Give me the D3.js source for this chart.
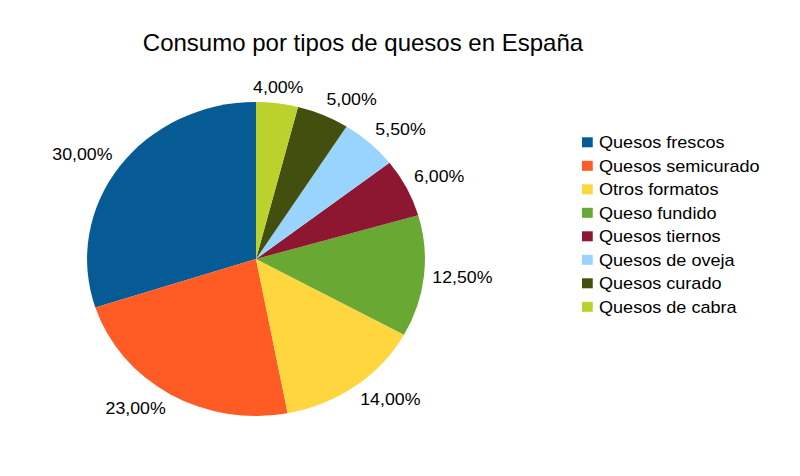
<!DOCTYPE html>
<html><head><meta charset="utf-8">
<script src="https://cdn.jsdelivr.net/npm/d3@7"></script>
<style>body{margin:0;background:#fff}text{font-family:"Liberation Sans",Arial,sans-serif;fill:#000}</style>
</head><body>
<svg id="c" width="800" height="476"></svg>
<script>
const title = "Consumo por tipos de quesos en España";
const categories = ["Quesos frescos","Quesos semicurado","Otros formatos","Queso fundido","Quesos tiernos","Quesos de oveja","Quesos curado","Quesos de cabra"];
const values = [30, 23, 14, 12.5, 6, 5.5, 5, 4];
const colors = ["#075b94","#ff5b24","#ffd63d","#69a833","#8d1631","#99d4fe","#424f0f","#bbd22c"];

const W = 800, H = 476, SX = 1.076;
const svg = d3.select("#c");
svg.append("text").attr("x", 363).attr("y", 50.7).attr("text-anchor", "middle")
  .style("font-size", "24px").text(title);

const g = svg.append("g").attr("transform", `scale(${SX},1)`);
const cx = 256 / SX, cy = 259, r = 157;
const fmt = v => d3.format(".2f")(v).replace(".", ",") + "%";

const pie = d3.pie().sort(null).startAngle(0).endAngle(-2 * Math.PI).value(d => d.v);
const data = categories.map((c, i) => ({c, v: values[i], col: colors[i]}));
const arcs = pie(data);
const arc = d3.arc().innerRadius(0).outerRadius(r);
const pg = g.append("g").attr("transform", `translate(${cx},${cy})`);
pg.selectAll("path").data(arcs).join("path").attr("d", arc).attr("fill", d => d.data.col);

const lr = r * 1.05;
arcs.forEach(a => {
  const m = (a.startAngle + a.endAngle) / 2;
  const x = Math.sin(m) * lr, y = -Math.cos(m) * lr;
  let th = (90 - m * 180 / Math.PI) % 360; if (th < 0) th += 360;
  const s = Math.round(th / 45) % 8;
  const anchors = ["start","start","middle","end","end","end","middle","start"];
  const dys = ["0.35em","-0.15em","-0.15em","-0.15em","0.35em","0.78em","0.78em","0.78em"];
  pg.append("text").attr("x", x).attr("y", y).attr("text-anchor", anchors[s]).attr("dy", dys[s])
    .style("font-size", "16.5px").text(fmt(a.data.v));
});

const lg = g.append("g");
const rows = lg.selectAll("g").data(data).join("g")
  .attr("transform", (d, i) => `translate(${582 / SX},${142.3 + i * 23.5})`);
rows.append("rect").attr("x", 0).attr("y", -5).attr("width", 10).attr("height", 10).attr("fill", d => d.col);
rows.append("text").attr("x", (599 - 582) / SX).attr("dy", "0.36em").style("font-size", "16.8px").text(d => d.c);
</script>
</body></html>
